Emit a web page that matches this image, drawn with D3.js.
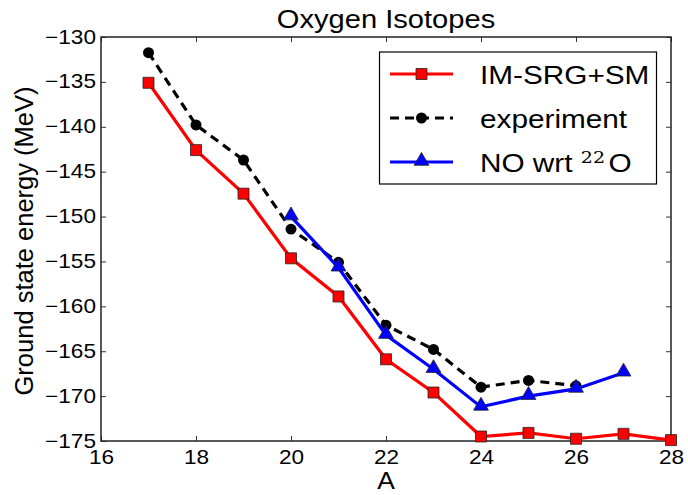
<!DOCTYPE html>
<html>
<head>
<meta charset="utf-8">
<script src="https://cdn.jsdelivr.net/npm/d3@7"></script>
<style>
  body { margin: 0; background: #fff; }
  text { font-family: "Liberation Sans", Arial, sans-serif; fill: #000; }
</style>
</head>
<body>
<svg id="chart" width="688" height="495"></svg>
<script>
// data
const massA = [17, 18, 19, 20, 21, 22, 23, 24, 25, 26, 27, 28];
const imsrgSM = [-135.1, -142.6, -147.45, -154.65, -158.9, -165.9, -169.6, -174.5, -174.1, -174.75, -174.2, -174.9];
const expA = [17, 18, 19, 20, 21, 22, 23, 24, 25, 26];
const experiment = [-131.75, -139.8, -143.7, -151.4, -155.1, -162.1, -164.8, -169.0, -168.25, -168.85];
const noA = [20, 21, 22, 23, 24, 25, 26, 27];
const noWrt22 = [-150.0, -155.7, -163.2, -167.0, -171.2, -170.0, -169.2, -167.4];
const xTicks = [16, 18, 20, 22, 24, 26, 28];
const yTicks = [-130, -135, -140, -145, -150, -155, -160, -165, -170, -175];

const svg = d3.select("#chart");
const pLeft = 101, pRight = 671, pTop = 37, pBottom = 441;

const x = d3.scaleLinear().domain([16, 28]).range([pLeft, pRight]);
const y = d3.scaleLinear().domain([-175, -130]).range([pBottom, pTop]);

const tickFmt = d => d3.format("d")(d).replace("-", "\u2212");

// stretch text horizontally a bit, the reference looks widened
function stretch(sel, sx) {
    sel.each(function() {
        const t = d3.select(this);
        const tx = +t.attr("x") || 0, ty = +t.attr("y") || 0;
        t.attr("x", 0).attr("y", 0)
         .attr("transform", `translate(${tx},${ty}) scale(${sx},1)`);
    });
}

// axes, inward ticks on all four sides
const gB = svg.append("g").attr("transform", `translate(0,${pBottom})`)
    .call(d3.axisBottom(x).tickValues(xTicks).tickSize(-5).tickFormat(tickFmt));
const gT = svg.append("g").attr("transform", `translate(0,${pTop})`)
    .call(d3.axisTop(x).tickValues(xTicks).tickSize(-5).tickFormat(""));
const gL = svg.append("g").attr("transform", `translate(${pLeft},0)`)
    .call(d3.axisLeft(y).tickValues(yTicks).tickSize(-5).tickFormat(tickFmt));
const gR = svg.append("g").attr("transform", `translate(${pRight},0)`)
    .call(d3.axisRight(y).tickValues(yTicks).tickSize(-5).tickFormat(""));

[gB, gT, gL, gR].forEach(g => {
    g.select(".domain").remove();
    g.selectAll(".tick line").attr("stroke", "#333").attr("stroke-width", 1);
});

gB.selectAll(".tick text")
    .attr("font-size", 20).attr("font-family", "Liberation Sans, Arial, sans-serif")
    .attr("fill", "#000").attr("dy", null).attr("y", 23);
gB.selectAll(".tick text").call(stretch, 1.13);

gL.selectAll(".tick text")
    .attr("font-size", 20).attr("font-family", "Liberation Sans, Arial, sans-serif")
    .attr("fill", "#000").attr("dy", null).attr("x", -5).attr("y", 6);
gL.selectAll(".tick text").call(stretch, 1.13);

// frame
svg.append("rect")
    .attr("x", pLeft).attr("y", pTop)
    .attr("width", pRight - pLeft).attr("height", pBottom - pTop)
    .attr("fill", "none").attr("stroke", "#222").attr("stroke-width", 1.5);

// title and labels
svg.append("text")
    .attr("x", (pLeft + pRight) / 2).attr("y", 28)
    .attr("text-anchor", "middle").attr("font-size", 26)
    .text("Oxygen Isotopes")
    .call(stretch, 1.12);

svg.append("text")
    .attr("x", (pLeft + pRight) / 2).attr("y", 489)
    .attr("text-anchor", "middle").attr("font-size", 24)
    .text("A")
    .call(stretch, 1.1);

svg.append("text")
    .attr("transform", `translate(33,${(pTop + pBottom) / 2 + 2}) rotate(-90)`)
    .attr("text-anchor", "middle").attr("font-size", 25.5)
    .text("Ground state energy (MeV)");

// series
const plot = svg.append("g");
const line = d3.line().x(d => x(d[0])).y(d => y(d[1]));

const redPts = massA.map((a, i) => [a, imsrgSM[i]]);
const blackPts = expA.map((a, i) => [a, experiment[i]]);
const bluePts = noA.map((a, i) => [a, noWrt22[i]]);

const sq = d3.symbol().type(d3.symbolSquare).size(121);
const circ = d3.symbol().type(d3.symbolCircle).size(95);
const tri = d3.symbol().type(d3.symbolTriangle).size(95);

plot.append("path").datum(redPts)
    .attr("d", line).attr("fill", "none")
    .attr("stroke", "#ff0000").attr("stroke-width", 3.2);
plot.selectAll(".sq").data(redPts).enter().append("path")
    .attr("class", "sq")
    .attr("transform", d => `translate(${x(d[0])},${y(d[1])})`)
    .attr("d", sq).attr("fill", "#ff0000").attr("stroke", "#222").attr("stroke-width", 0.8);

plot.append("path").datum(blackPts)
    .attr("d", line).attr("fill", "none")
    .attr("stroke", "#000").attr("stroke-width", 3.2)
    .attr("stroke-dasharray", "9,6");
plot.selectAll(".circ").data(blackPts).enter().append("path")
    .attr("class", "circ")
    .attr("transform", d => `translate(${x(d[0])},${y(d[1])})`)
    .attr("d", circ).attr("fill", "#000");

plot.append("path").datum(bluePts)
    .attr("d", line).attr("fill", "none")
    .attr("stroke", "#0000ff").attr("stroke-width", 3.2);
plot.selectAll(".tri").data(bluePts).enter().append("path")
    .attr("class", "tri")
    .attr("transform", d => `translate(${x(d[0])},${y(d[1]) - 1})`)
    .attr("d", tri).attr("fill", "#0000ff").attr("stroke", "#222").attr("stroke-width", 0.8);

// legend
const legend = svg.append("g");
legend.append("rect")
    .attr("x", 379.5).attr("y", 52).attr("width", 277).attr("height", 132)
    .attr("fill", "#fff").attr("stroke", "#000").attr("stroke-width", 1.2);

const entries = [
    { color: "#ff0000", dash: null, sym: sq },
    { color: "#000", dash: "9,6", sym: circ },
    { color: "#0000ff", dash: null, sym: tri }
];
entries.forEach((e, i) => {
    const ly = 74 + i * 44;
    legend.append("line")
        .attr("x1", 390).attr("x2", 453).attr("y1", ly).attr("y2", ly)
        .attr("stroke", e.color).attr("stroke-width", 3.2)
        .attr("stroke-dasharray", e.dash);
    legend.append("path")
        .attr("transform", `translate(421.5,${e.sym === tri ? ly - 1 : ly})`)
        .attr("d", e.sym)
        .attr("fill", e.color)
        .attr("stroke", e.color === "#000" ? null : "#222")
        .attr("stroke-width", 0.8);
});

const lt = legend.append("g").attr("font-size", 25);
lt.append("text").attr("x", 480).attr("y", 83.5).text("IM-SRG+SM").call(stretch, 1.19);
lt.append("text").attr("x", 480).attr("y", 127.5).text("experiment").call(stretch, 1.19);
const t3 = lt.append("text").attr("x", 480).attr("y", 171.5);
t3.append("tspan").text("NO wrt ");
t3.append("tspan").attr("font-family", "DejaVu Serif, Liberation Serif, serif")
    .attr("font-size", 16).attr("dy", -9).text("22");
t3.append("tspan").attr("dy", 9).attr("dx", 3).text("O");
t3.call(stretch, 1.19);
</script>
</body>
</html>
